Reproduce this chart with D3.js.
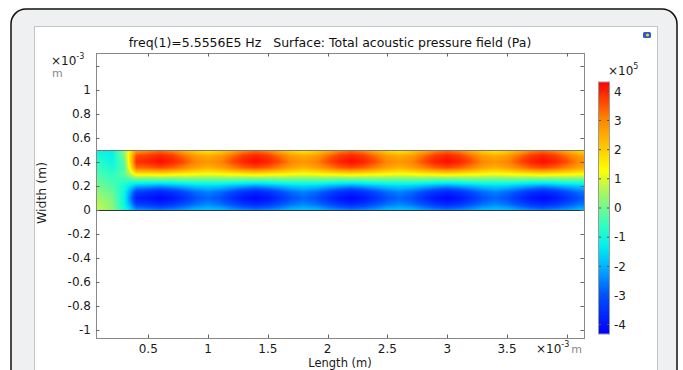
<!DOCTYPE html>
<html>
<head>
<meta charset="utf-8">
<script src="https://cdn.jsdelivr.net/npm/d3@7"></script>
<style>
  body { margin: 0; background: #fff; }
  svg { display: block; }
  text { font-family: "DejaVu Sans", sans-serif; }
</style>
</head>
<body>
<div id="chart"></div>
<script>
// axis ticks (units of 1e-3 m)
const xTicks = [0.5, 1, 1.5, 2, 2.5, 3, 3.5, 4];
const xTickLabels = ["0.5", "1", "1.5", "2", "2.5", "3", "3.5", ""];
const yTicks = [-1, -0.8, -0.6, -0.4, -0.2, 0, 0.2, 0.4, 0.6, 0.8, 1, 1.2];
const yTickLabels = ["-1", "-0.8", "-0.6", "-0.4", "-0.2", "0", "0.2", "0.4", "0.6", "0.8", "1", ""];

// colour bar (units of 1e5 Pa)
const cbTicks = [-4, -3, -2, -1, 0, 1, 2, 3, 4];
const cbRange = [-4.32, 4.32];
const rainbowVals = [-4.32, -3, -2, -1.3, -0.6, 0, 0.7, 1.3, 2.2, 3.1, 4.32];
const rainbowCols = ["#0000ff", "#0050ff", "#00b4ff", "#00f0f0", "#30ffc0", "#70f890",
                     "#b8f850", "#ffff00", "#ffc000", "#ff8000", "#ff0000"];

// sampled pressure field, read off the picture (1e5 Pa)
// rows run from y = 0.5 (top) down to y = 0
const rowY = [0.5, 0.45, 0.4, 0.35, 0.3, 0.25, 0.2, 0.15, 0.1, 0.05, 0];
const colX = [0, 0.1, 0.2, 0.3, 0.4, 0.5, 0.6, 0.7, 0.8, 0.9, 1.0, 1.1, 1.2, 1.3, 1.4,
              1.5, 1.6, 1.7, 1.8, 1.9, 2.0, 2.1, 2.2, 2.3, 2.4, 2.5, 2.6, 2.7, 2.8, 2.9,
              3.0, 3.1, 3.2, 3.3, 3.4, 3.5, 3.6, 3.7, 3.8, 3.9, 4.0, 4.1, 4.2];
const inlet0 = [-1.0, -0.9, -0.7, -0.5, -0.2, 0.0, 0.2, 0.4, 0.6, 0.8, 0.9];
const inlet1 = [-1.2, -1.0, -0.8, -0.6, -0.4, -0.2, 0.0, 0.2, 0.4, 0.6, 0.7];
const inlet2 = [-1.3, -1.2, -1.1, -0.9, -0.7, -0.5, -0.3, -0.1, 0.1, 0.2, 0.3];
const inlet3 = [0.4, 0.2, -0.1, -0.3, -0.1, -0.6, -0.9, -1.1, -1.2, -1.1, -0.9];
const firstLobe = [2.6, 3.6, 3.9, 3.3, 1.6, -0.3, -2.0, -3.3, -3.8, -3.3, -2.3];
const lobePeak = [3.2, 4.0, 4.2, 3.6, 1.7, -0.3, -2.3, -3.7, -4.2, -3.7, -2.6];
const lobeNear = [2.9, 3.8, 4.0, 3.4, 1.6, -0.3, -2.1, -3.5, -4.0, -3.5, -2.4];
const lobeHalf = [2.3, 3.3, 3.6, 3.0, 1.5, -0.2, -1.9, -3.1, -3.5, -3.1, -2.2];
const lobeEdge = [1.8, 2.7, 3.0, 2.6, 1.4, -0.2, -1.7, -2.7, -3.0, -2.7, -1.9];
const lobeGap = [1.5, 2.5, 2.8, 2.4, 1.3, -0.2, -1.6, -2.5, -2.8, -2.5, -1.8];
const fieldCols = [
  inlet0, inlet1, inlet2, inlet3, firstLobe, lobeNear, lobePeak, lobeNear, lobeHalf, lobeEdge,
  lobeGap, lobeEdge, lobeHalf, lobeNear, lobePeak, lobeNear, lobeHalf, lobeEdge, lobeGap, lobeEdge,
  lobeHalf, lobeNear, lobePeak, lobeNear, lobeHalf, lobeEdge, lobeGap, lobeEdge, lobeHalf, lobeNear,
  lobePeak, lobeNear, lobeHalf, lobeEdge, lobeGap, lobeEdge, lobeHalf, lobeNear, lobePeak, lobeNear,
  lobeHalf, lobeEdge, lobeGap
];

const W = 683, H = 370;
const plot = { left: 96, right: 584, top: 53, bottom: 338 };

const svg = d3.select("#chart").append("svg")
  .attr("width", W).attr("height", H);

// window frame
svg.append("rect")
  .attr("x", 11).attr("y", 9).attr("width", 666).attr("height", 420)
  .attr("rx", 15)
  .attr("fill", "#eff0f2").attr("stroke", "#111").attr("stroke-width", 1.5);
svg.append("rect")
  .attr("x", 34.5).attr("y", 26.5).attr("width", 623).attr("height", 400)
  .attr("fill", "#fff").attr("stroke", "#c4c4c4");

// little icon top right
svg.append("rect").attr("x", 643).attr("y", 32).attr("width", 8).attr("height", 6)
  .attr("rx", 1.5).attr("fill", "#2a5cc8");
svg.append("circle").attr("cx", 647.5).attr("cy", 35).attr("r", 1.6).attr("fill", "#f0d040");

var x = d3.scaleLinear().domain([0.063, 4.144]).range([plot.left, plot.right]);
var y = d3.scaleLinear().domain([-1.067, 1.308]).range([plot.bottom, plot.top]);

var color = d3.scaleLinear().domain(rainbowVals).range(rainbowCols).clamp(true);

// shade the field on a canvas (bilinear between the sampled values)
var fx = d3.scaleLinear().domain([colX[0], colX[colX.length - 1]]).range([0, colX.length - 1]).clamp(true);
var fy = d3.scaleLinear().domain([rowY[0], rowY[rowY.length - 1]]).range([0, rowY.length - 1]).clamp(true);
function fieldAt(xv, yv) {
  var i = fx(xv), j = fy(yv);
  var i0 = Math.min(Math.floor(i), colX.length - 2), j0 = Math.min(Math.floor(j), rowY.length - 2);
  var ti = i - i0, tj = j - j0;
  var a = fieldCols[i0][j0], b = fieldCols[i0 + 1][j0];
  var c = fieldCols[i0][j0 + 1], d = fieldCols[i0 + 1][j0 + 1];
  return (a * (1 - ti) + b * ti) * (1 - tj) + (c * (1 - ti) + d * ti) * tj;
}
var gx0 = plot.left, gx1 = plot.right, gy0 = Math.round(y(0.5)), gy1 = Math.round(y(0));
var cw = gx1 - gx0, ch = gy1 - gy0;
var canvas = document.createElement("canvas");
canvas.width = cw; canvas.height = ch;
var ctx = canvas.getContext("2d");
var img = ctx.createImageData(cw, ch);
for (var py = 0; py < ch; py++) {
  for (var px = 0; px < cw; px++) {
    var v = fieldAt(x.invert(gx0 + px + 0.5), y.invert(gy0 + py + 0.5));
    var rgb = d3.rgb(color(v));
    var k = (py * cw + px) * 4;
    img.data[k] = rgb.r; img.data[k + 1] = rgb.g; img.data[k + 2] = rgb.b; img.data[k + 3] = 255;
  }
}
ctx.putImageData(img, 0, 0);
svg.append("image")
  .attr("x", gx0).attr("y", gy0).attr("width", cw).attr("height", ch)
  .attr("preserveAspectRatio", "none")
  .attr("href", canvas.toDataURL());

// geometry edges
svg.append("line").attr("x1", gx0).attr("x2", gx1).attr("y1", gy0 + 0.5).attr("y2", gy0 + 0.5)
  .attr("stroke", "#777").attr("stroke-width", 1.2);
svg.append("line").attr("x1", gx0).attr("x2", gx1).attr("y1", gy1 + 0.5).attr("y2", gy1 + 0.5)
  .attr("stroke", "#333").attr("stroke-width", 1.2);

// plot frame
svg.append("rect")
  .attr("x", plot.left + 0.5).attr("y", plot.top + 0.5)
  .attr("width", plot.right - plot.left).attr("height", plot.bottom - plot.top)
  .attr("fill", "none").attr("stroke", "#888");

// inward ticks on all four sides
var tl = 3.5;
var tickG = svg.append("g").attr("stroke", "#666");
xTicks.forEach(function (t) {
  var px = Math.round(x(t)) + 0.5;
  tickG.append("line").attr("x1", px).attr("x2", px).attr("y1", plot.bottom).attr("y2", plot.bottom - tl);
  tickG.append("line").attr("x1", px).attr("x2", px).attr("y1", plot.top).attr("y2", plot.top + tl);
});
yTicks.forEach(function (t) {
  var py = Math.round(y(t)) + 0.5;
  tickG.append("line").attr("x1", plot.left).attr("x2", plot.left + tl).attr("y1", py).attr("y2", py);
  tickG.append("line").attr("x1", plot.right).attr("x2", plot.right - tl).attr("y1", py).attr("y2", py);
});

// tick labels
svg.append("g").selectAll("text").data(xTicks).enter().append("text")
  .attr("x", function (d) { return x(d); }).attr("y", 352.5)
  .attr("text-anchor", "middle").attr("font-size", 12).attr("fill", "#1a1a1a")
  .text(function (d, i) { return xTickLabels[i]; });
svg.append("g").selectAll("text").data(yTicks).enter().append("text")
  .attr("x", 91).attr("y", function (d) { return y(d); }).attr("dy", "0.36em")
  .attr("text-anchor", "end").attr("font-size", 12).attr("fill", "#1a1a1a")
  .text(function (d, i) { return yTickLabels[i]; });

// exponent / unit labels
function expLabel(xp, yp, exp, unit) {
  var t = svg.append("text").attr("x", xp).attr("y", yp).attr("font-size", 12).attr("fill", "#1a1a1a");
  t.append("tspan").text("×10");
  t.append("tspan").attr("dy", -6).attr("font-size", 8).text(exp);
  if (unit) t.append("tspan").attr("dy", 6).attr("dx", 2).attr("fill", "#888").attr("font-size", 11).text(unit);
}
expLabel(51, 65, "-3", null);
svg.append("text").attr("x", 52).attr("y", 77).attr("font-size", 11).attr("fill", "#888").text("m");
expLabel(536, 352.5, "-3", "m");
expLabel(608, 75, "5", null);

// axis titles
svg.append("text").attr("x", 340).attr("y", 366.5).attr("text-anchor", "middle")
  .attr("font-size", 11.5).attr("fill", "#1a1a1a").text("Length (m)");
svg.append("text").attr("transform", "translate(46,193) rotate(-90)").attr("text-anchor", "middle")
  .attr("font-size", 12.5).attr("fill", "#1a1a1a").text("Width (m)");

// title
svg.append("text").attr("x", 330).attr("y", 47).attr("text-anchor", "middle")
  .attr("font-size", 12.5).attr("fill", "#111")
  .attr("xml:space", "preserve")
  .text("freq(1)=5.5556E5 Hz   Surface: Total acoustic pressure field (Pa)");

// colour bar
var cbY = d3.scaleLinear().domain(cbRange).range([334, 82]);
var grad = svg.append("defs").append("linearGradient").attr("id", "rainbow")
  .attr("x1", 0).attr("y1", 1).attr("x2", 0).attr("y2", 0);
grad.selectAll("stop").data(rainbowVals).enter().append("stop")
  .attr("offset", function (d) { return (d - cbRange[0]) / (cbRange[1] - cbRange[0]); })
  .attr("stop-color", function (d, i) { return rainbowCols[i]; });
svg.append("rect").attr("x", 598.5).attr("y", cbY(cbRange[1])).attr("width", 11)
  .attr("height", cbY(cbRange[0]) - cbY(cbRange[1]))
  .attr("fill", "url(#rainbow)").attr("stroke", "#999");
var cbG = svg.append("g");
cbTicks.forEach(function (t) {
  cbG.append("line").attr("x1", 599).attr("x2", 601).attr("y1", cbY(t)).attr("y2", cbY(t)).attr("stroke", "#555");
  cbG.append("line").attr("x1", 607).attr("x2", 609).attr("y1", cbY(t)).attr("y2", cbY(t)).attr("stroke", "#555");
  cbG.append("text").attr("x", 614).attr("y", cbY(t)).attr("dy", "0.36em")
    .attr("font-size", 12).attr("fill", "#1a1a1a").text(t);
});
</script>
</body>
</html>
